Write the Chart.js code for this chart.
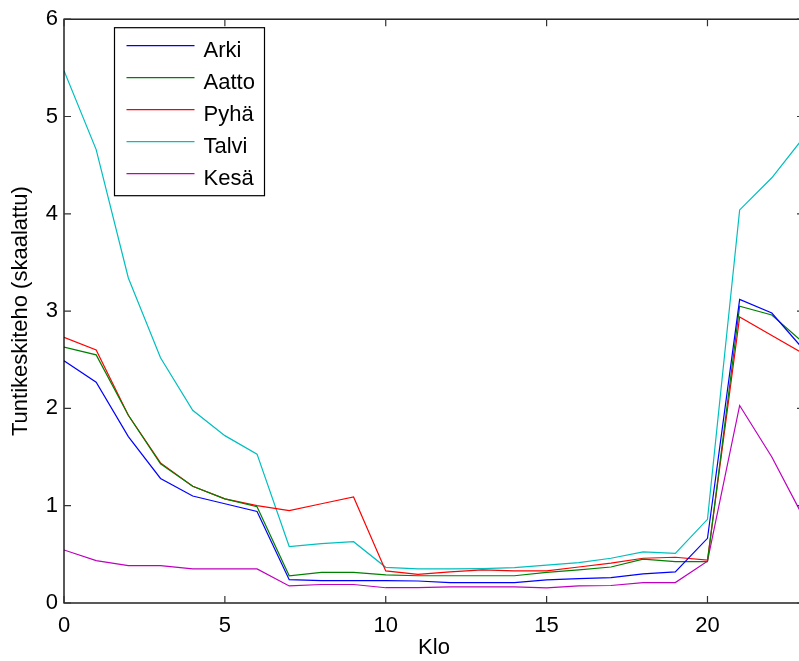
<!DOCTYPE html>
<html>
<head>
<meta charset="utf-8">
<script src="https://cdn.jsdelivr.net/npm/chart.js@4/dist/chart.umd.min.js"></script>
<style>
    html, body { margin: 0; padding: 0; background: #fff; overflow: hidden; }
    #wrap { position: relative; width: 806px; height: 661px; }
</style>
</head>
<body>
<div id="wrap"><canvas id="kulutus"></canvas></div>
<script>
// Tunnit 0..23
const tunnit = [0, 1, 2, 3, 4, 5, 6, 7, 8, 9, 10, 11, 12, 13, 14, 15, 16, 17, 18, 19, 20, 21, 22, 23];

// Tuntikeskiteho (skaalattu) päivätyypeittäin
const arki  = [2.49, 2.27, 1.71, 1.28, 1.10, 1.02, 0.94, 0.24, 0.23, 0.23, 0.23, 0.226, 0.21, 0.21, 0.21, 0.237, 0.25, 0.26, 0.30, 0.32, 0.665, 3.12, 2.98, 2.60];
const aatto = [2.63, 2.55, 1.93, 1.43, 1.20, 1.07, 0.99, 0.28, 0.315, 0.315, 0.29, 0.28, 0.28, 0.28, 0.28, 0.315, 0.34, 0.37, 0.45, 0.425, 0.425, 3.05, 2.96, 2.67];
const pyha  = [2.73, 2.60, 1.93, 1.44, 1.20, 1.07, 1.00, 0.95, 1.02, 1.09, 0.33, 0.295, 0.32, 0.34, 0.33, 0.33, 0.37, 0.41, 0.46, 0.47, 0.44, 2.94, 2.75, 2.56];
const talvi = [5.47, 4.66, 3.34, 2.52, 1.98, 1.72, 1.53, 0.58, 0.61, 0.63, 0.367, 0.35, 0.35, 0.353, 0.363, 0.39, 0.415, 0.46, 0.525, 0.51, 0.86, 4.04, 4.37, 4.79];
const kesa  = [0.545, 0.435, 0.385, 0.385, 0.35, 0.35, 0.35, 0.175, 0.19, 0.19, 0.157, 0.157, 0.165, 0.165, 0.165, 0.155, 0.175, 0.18, 0.21, 0.21, 0.43, 2.03, 1.50, 0.87];

const sarjat = ['Arki', 'Aatto', 'Pyhä', 'Talvi', 'Kesä'];
const arvot = [arki, aatto, pyha, talvi, kesa];
const varit = ['#0000ff', '#008000', '#ff0000', '#00bfbf', '#bf00bf'];

const FONTTI = 'Liberation Sans, Arial, Helvetica, sans-serif';

// kehys ja sisäänpäin osoittavat tikit kaikille sivuille
const kehys = {
    id: 'kehys',
    afterDatasetsDraw(chart) {
        const { ctx, chartArea: a, scales } = chart;
        ctx.save();
        ctx.strokeStyle = '#000';
        ctx.lineWidth = 1.3;
        ctx.strokeRect(a.left, a.top, a.right - a.left, a.bottom - a.top);
        ctx.strokeStyle = '#333';
        ctx.lineWidth = 1.2;
        ctx.beginPath();
        scales.x.ticks.forEach(t => {
            const px = scales.x.getPixelForValue(t.value);
            ctx.moveTo(px, a.bottom); ctx.lineTo(px, a.bottom - 7);
            ctx.moveTo(px, a.top); ctx.lineTo(px, a.top + 7);
        });
        scales.y.ticks.forEach(t => {
            const py = scales.y.getPixelForValue(t.value);
            ctx.moveTo(a.left, py); ctx.lineTo(a.left + 7, py);
            ctx.moveTo(a.right, py); ctx.lineTo(a.right - 7, py);
        });
        ctx.stroke();
        ctx.restore();
    }
};

// selite kuvaajan vasempaan yläkulmaan
const selite = {
    id: 'selite',
    afterDraw(chart) {
        const { ctx, chartArea: a } = chart;
        const x0 = a.left + 50.5, y0 = a.top + 8.5;
        ctx.save();
        ctx.fillStyle = '#fff';
        ctx.fillRect(x0, y0, 150, 168);
        ctx.strokeStyle = '#000';
        ctx.lineWidth = 1.2;
        ctx.strokeRect(x0, y0, 150, 168);
        ctx.font = '22px ' + FONTTI;
        ctx.textBaseline = 'alphabetic';
        chart.data.datasets.forEach((ds, i) => {
            const y = y0 + 18 + i * 32;
            ctx.strokeStyle = ds.borderColor;
            ctx.lineWidth = 1.2;
            ctx.beginPath();
            ctx.moveTo(x0 + 12, y);
            ctx.lineTo(x0 + 80, y);
            ctx.stroke();
            ctx.fillStyle = '#000';
            ctx.fillText(ds.label, x0 + 89, y + 11);
        });
        ctx.restore();
    }
};

const ctx = document.getElementById('kulutus').getContext('2d');
const kuvaaja = new Chart(ctx, {
    type: 'line',
    data: {
        datasets: sarjat.map((nimi, i) => ({
            label: nimi,
            data: tunnit.map((h, j) => ({ x: h, y: arvot[i][j] })),
            borderColor: varit[i],
            borderWidth: 1.2,
            pointRadius: 0,
            tension: 0,
            fill: false
        }))
    },
    options: {
        responsive: true,
        maintainAspectRatio: false,
        animation: false,
        layout: { padding: { left: 0, top: 19, right: 2, bottom: 0 } },
        plugins: {
            legend: { display: false },
            tooltip: { enabled: false }
        },
        scales: {
            x: {
                type: 'linear',
                min: 0,
                max: 23,
                grid: { display: false, drawTicks: false },
                border: { display: false },
                ticks: {
                    stepSize: 5,
                    includeBounds: false,
                    padding: 10,
                    color: '#000',
                    font: { family: FONTTI, size: 22 }
                },
                title: {
                    display: true,
                    text: 'Klo',
                    color: '#000',
                    padding: { top: 0, bottom: 0 },
                    font: { family: FONTTI, size: 22 }
                },
                afterFit(scale) { scale.height = 58; }
            },
            y: {
                min: 0,
                max: 6,
                grid: { display: false, drawTicks: false },
                border: { display: false },
                ticks: {
                    stepSize: 1,
                    padding: 6,
                    color: '#000',
                    font: { family: FONTTI, size: 22 }
                },
                title: {
                    display: true,
                    text: 'Tuntikeskiteho (skaalattu)',
                    color: '#000',
                    padding: { top: 8, bottom: 0 },
                    font: { family: FONTTI, size: 22 }
                },
                afterFit(scale) { scale.width = 64; }
            }
        }
    },
    plugins: [kehys, selite]
});
</script>
</body>
</html>
